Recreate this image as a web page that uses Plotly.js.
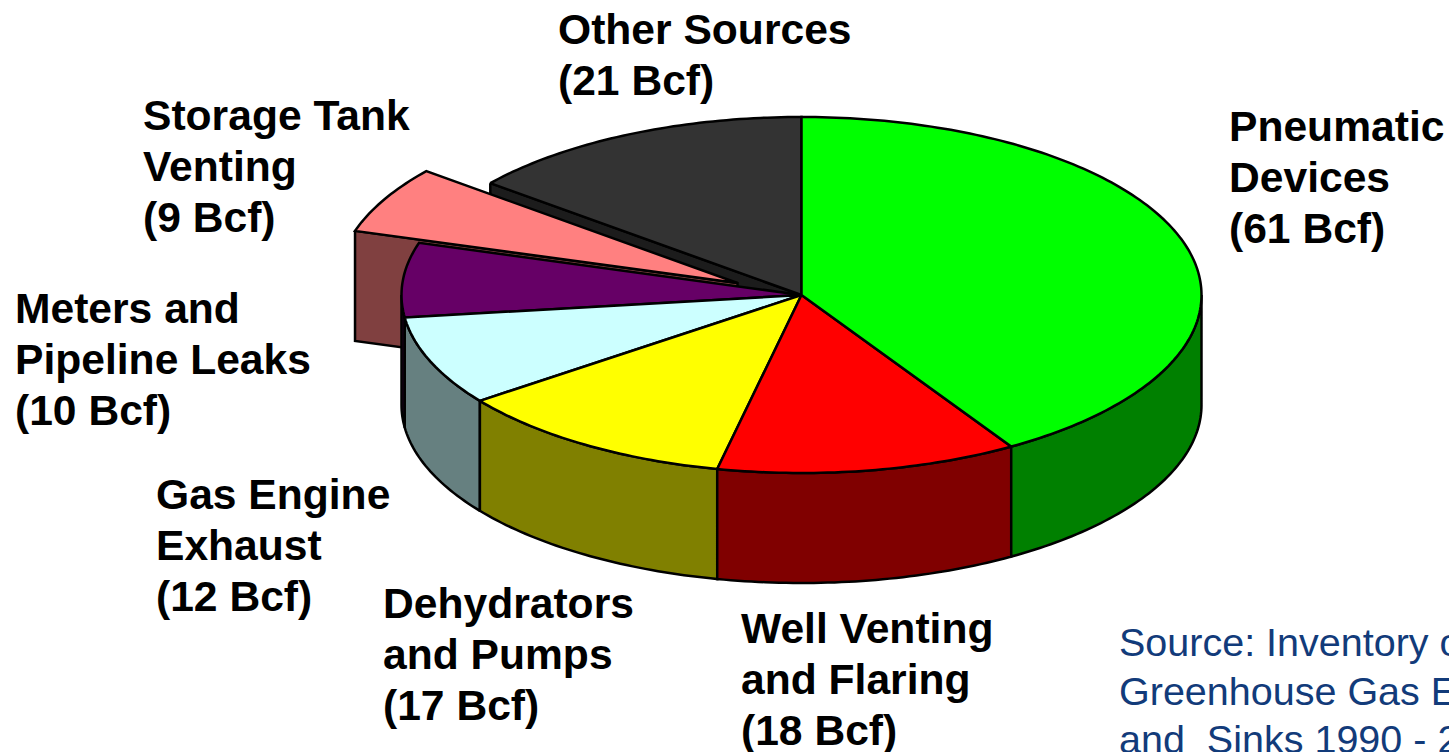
<!DOCTYPE html>
<html><head><meta charset="utf-8">
<script src="https://cdn.plot.ly/plotly-3.0.1.min.js"></script>
<style>html,body{margin:0;padding:0;background:#fff;overflow:hidden}#c{width:1449px;height:752px}</style>
</head><body><div id="c"></div>
<script>
// Data (Bcf), clockwise from 12 o'clock
const categories = ["Pneumatic Devices","Well Venting and Flaring","Dehydrators and Pumps","Gas Engine Exhaust","Meters and Pipeline Leaks","Storage Tank Venting","Other Sources"];
const values = [61,18,17,12,10,9,21];
const topColors  = ["#00ff00","#ff0000","#ffff00","#ccffff","#660066","#ff8080","#333333"];
const sideColors = ["#008000","#800000","#808000","#668080","#330033","#804040","#1c1c1c"];

// Label text, line by line, with its position
const labelLines = [["Pneumatic","Devices"],["Well Venting","and Flaring"],["Dehydrators","and Pumps"],["Gas Engine","Exhaust"],["Meters and","Pipeline Leaks"],["Storage Tank","Venting"],["Other Sources"]];
const labelX = [1228,740,382,155,14,142,557];
const labelY = [125.5,627.5,602.5,493.5,307.5,114.5,28.5];
const sourceLines = ["Source: Inventory of","Greenhouse Gas Emissions","and \u00a0Sinks 1990 - 2"];

// Pie geometry
const cx = 801.5, cy = 295, rx = 400, ry = 178, depth = 110;
const explodedIndex = 5, explodeDx = -64, explodeDy = -12;

const total = values.reduce((a,b)=>a+b,0);
const toXY = (deg,dx,dy,dz) => {
  const t = deg*Math.PI/180;
  return [cx+dx+rx*Math.sin(t), cy+dy-ry*Math.cos(t)+dz];
};
const arc = (a,b,dx,dy,dz) => {
  const n = Math.max(2,Math.ceil(Math.abs(b-a))), pts=[];
  for(let i=0;i<=n;i++) pts.push(toXY(a+(b-a)*i/n,dx,dy,dz));
  return pts;
};
const poly = (pts,fill,name) => ({
  type:"scatter",mode:"lines",name,hoverinfo:"name",showlegend:false,
  x:pts.map(p=>p[0]).concat([pts[0][0]]),
  y:pts.map(p=>p[1]).concat([pts[0][1]]),
  fill:"toself",fillcolor:fill,line:{color:"#000",width:2.5,simplify:false}
});

let acc = 0;
const wedges = values.map((v,i)=>{
  const a = acc/total*360; acc += v; const b = acc/total*360;
  const ex = i===explodedIndex;
  return {i,a,b,dx:ex?explodeDx:0,dy:ex?explodeDy:0};
});
const topOf = w => poly([[cx+w.dx,cy+w.dy]].concat(arc(w.a,w.b,w.dx,w.dy,0)),topColors[w.i],categories[w.i]);
const rimOf = w => {
  const a = Math.max(w.a,90), b = Math.min(w.b,270);
  if(b<=a) return null;
  return poly(arc(a,b,w.dx,w.dy,0).concat(arc(b,a,w.dx,w.dy,depth)),sideColors[w.i],categories[w.i]);
};
// The cut face on a wedge's starting radius, seen through the exploded gap
const faceOf = w => {
  const p = toXY(w.a,w.dx,w.dy,0), q = toXY(w.a,w.dx,w.dy,depth);
  return poly([p,[cx+w.dx,cy+w.dy],[cx+w.dx,cy+w.dy+depth],q],sideColors[w.i],categories[w.i]);
};

const traces = [];
const other = wedges[6], storage = wedges[5];
traces.push(faceOf(other), topOf(other), faceOf(storage), topOf(storage));
[4,3,2,1,0].forEach(i=>{ const r = rimOf(wedges[i]); if(r) traces.push(r); });
[4,3,2,1,0].forEach(i=>traces.push(topOf(wedges[i])));

const labelFont = {family:"Liberation Sans, Arial, sans-serif",size:42.6,color:"#000"};
const annotations = [];
const lineStep = 51;
categories.forEach((c,i)=>{
  const lines = labelLines[i].concat(["("+values[i]+" Bcf)"]);
  lines.forEach((t,k)=>annotations.push({
    xref:"x",yref:"y",x:labelX[i],y:labelY[i]+k*lineStep,
    text:"<b>"+t+"</b>",showarrow:false,xanchor:"left",yanchor:"middle",
    font:labelFont,borderpad:0,align:"left"
  }));
});
sourceLines.forEach((t,k)=>annotations.push({
  xref:"x",yref:"y",x:1118,y:642+k*48.5,text:t,showarrow:false,xanchor:"left",yanchor:"middle",
  font:{family:"Liberation Sans, Arial, sans-serif",size:39.5,color:"#123b7a"},borderpad:0,align:"left"
}));

Plotly.newPlot("c",traces,{
  width:1449,height:752,margin:{l:0,r:0,t:0,b:0},
  paper_bgcolor:"#fff",plot_bgcolor:"#fff",showlegend:false,
  xaxis:{range:[0,1449],visible:false,fixedrange:true},
  yaxis:{range:[752,0],visible:false,fixedrange:true},
  annotations
},{displayModeBar:false,staticPlot:true});
</script></body></html>
